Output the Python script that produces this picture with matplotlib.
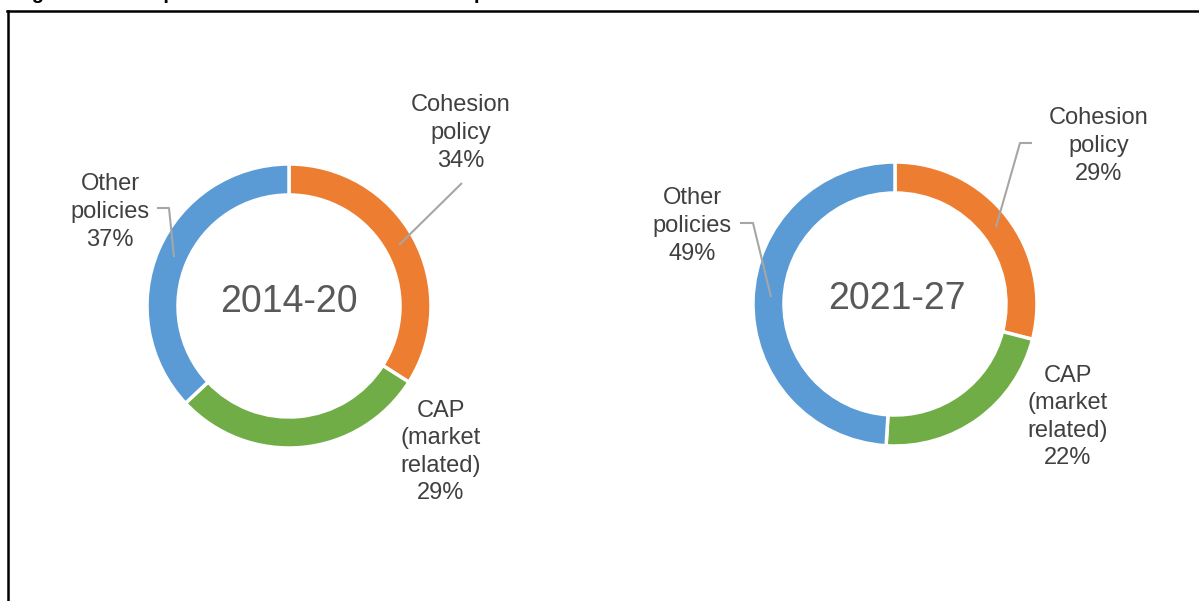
import matplotlib
matplotlib.use("Agg")
import matplotlib.pyplot as plt
from matplotlib.lines import Line2D

# ---- data ----
categories = ["Cohesion\npolicy", "CAP\n(market\nrelated)", "Other\npolicies"]
periods = ["2014-20", "2021-27"]
shares_2014_20 = [34, 29, 37]
shares_2021_27 = [29, 22, 49]
colors = ["#ED7D31", "#70AD47", "#5B9BD5"]
title_text = "Figure 1: Three policies as a share of total EU expenditure"

W, H = 1199, 601
plt.rcParams['font.family'] = ['Liberation Sans', 'DejaVu Sans']
fig = plt.figure(figsize=(W / 100, H / 100), dpi=100)
ax = fig.add_axes([0, 0, 1, 1])


def Y(y):
    return H - y


series = [shares_2014_20, shares_2021_27]
centers = [(289, 306), (895, 304)]
radius = 142
ring = 31

for vals, (cx, cy) in zip(series, centers):
    ax.pie(vals, colors=colors, startangle=90, counterclock=False,
           center=(cx, Y(cy)), radius=radius,
           wedgeprops=dict(width=ring, edgecolor="white", linewidth=2.5))

# centre labels
ax.text(289, Y(302), periods[0], ha="center", va="center",
        fontsize=27, color="#595959")
ax.text(897, Y(299), periods[1], ha="center", va="center",
        fontsize=27, color="#595959")

# data labels (positions in pixel coordinates)
label_pos = [
    [(461, 133), (441, 452), (110, 212)],
    [(1099, 146), (1068, 417), (692, 226)],
]
for vals, poss in zip(series, label_pos):
    for cat, v, (lx, ly) in zip(categories, vals, poss):
        ax.text(lx, Y(ly), f"{cat}\n{v}%", ha="center", va="center",
                multialignment="center", fontsize=17, color="#404040",
                linespacing=1.33)

# leader lines
leaders = [
    [(462, 183), (399, 245)],
    [(157, 208), (169, 208), (174, 257)],
    [(1032, 143), (1020, 143), (996, 227)],
    [(740, 223), (753, 223), (771, 297)],
]
for pts in leaders:
    xs = [p[0] for p in pts]
    ys = [Y(p[1]) for p in pts]
    ax.plot(xs, ys, color="#A6A6A6", lw=1.5, solid_capstyle="butt")

ax.set_xlim(0, W)
ax.set_ylim(0, H)
ax.set_aspect("equal")
ax.axis("off")

# frame (left and top edges visible)
fig.add_artist(Line2D([8 / W, 8 / W], [0, Y(10.5) / H], color="black",
                      lw=1.8, transform=fig.transFigure))
fig.add_artist(Line2D([7 / W, 1], [Y(10.5) / H, Y(10.5) / H], color="black",
                      lw=1.8, transform=fig.transFigure))

# cut-off title above the frame (only descenders visible, as in the reference)
fig.text(14 / W, 1 + 1.0 / H, title_text, fontsize=14.4, fontweight="bold",
         color="black", ha="left", va="baseline")

fig.savefig("out.png", dpi=100)
